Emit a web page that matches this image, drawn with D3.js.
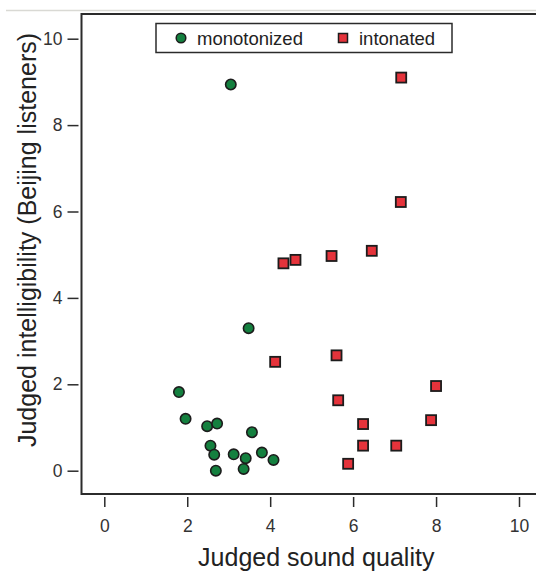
<!DOCTYPE html>
<html>
<head>
<meta charset="utf-8">
<script src="https://cdn.jsdelivr.net/npm/d3@7"></script>
<style>
  html, body { margin: 0; padding: 0; background: #fff; }
  svg { display: block; font-family: "Liberation Sans", Arial, sans-serif; }
</style>
</head>
<body>
<svg id="chart" width="536" height="572"></svg>
<script>
// Judged sound quality (x) vs judged intelligibility (y) per stimulus
const monoQuality = [1.80, 1.96, 2.48, 2.72, 3.56, 2.56, 2.65, 3.12, 3.41, 3.80, 4.08, 2.69, 3.36, 3.48, 3.05];
const monoIntell  = [1.82, 1.20, 1.03, 1.09, 0.89, 0.58, 0.37, 0.38, 0.29, 0.42, 0.25, 0.00, 0.04, 3.30, 8.94];

const intoQuality = [7.16, 7.15, 4.32, 4.61, 5.48, 6.45, 4.12, 5.60, 8.00, 5.64, 7.88, 6.24, 6.24, 7.04, 5.88];
const intoIntell  = [9.10, 6.22, 4.80, 4.88, 4.97, 5.09, 2.52, 2.67, 1.96, 1.63, 1.17, 1.08, 0.58, 0.58, 0.16];

const xTicks = [0, 2, 4, 6, 8, 10];
const yTicks = [0, 2, 4, 6, 8, 10];
const seriesNames = ["monotonized", "intonated"];

const svg = d3.select("#chart");

const frame = { left: 81.5, top: 14, right: 551, bottom: 494 };

const x = d3.scaleLinear().domain([0, 10]).range([104.3, 519]);
const y = d3.scaleLinear().domain([0, 10]).range([470.7, 38.7]);

const ink = "#2b2b2b";
const green = "#14803f";
const red = "#e5333b";

// thin rule across the top of the figure
svg.append("line")
  .attr("x1", 6).attr("x2", 536).attr("y1", 10.5).attr("y2", 10.5)
  .attr("stroke", "#d9d9d4").attr("stroke-width", 1.5);

// plot frame
svg.append("rect")
  .attr("x", frame.left).attr("y", frame.top)
  .attr("width", frame.right - frame.left).attr("height", frame.bottom - frame.top)
  .attr("fill", "none").attr("stroke", ink).attr("stroke-width", 2);

// axes, offset slightly from the frame
const xAxis = svg.append("g")
  .attr("transform", `translate(0,${frame.bottom + 3})`)
  .call(d3.axisBottom(x).tickValues(xTicks).tickSize(10).tickPadding(13).tickFormat(d3.format("d")));
const yAxis = svg.append("g")
  .attr("transform", `translate(${frame.left - 3},0)`)
  .call(d3.axisLeft(y).tickValues(yTicks).tickSize(11).tickPadding(5).tickFormat(d3.format("d")));

[xAxis, yAxis].forEach(g => {
  g.select(".domain").remove();
  g.selectAll(".tick line").attr("stroke", ink).attr("stroke-width", 1.5);
  g.selectAll(".tick text")
    .attr("fill", "#333")
    .style("font-size", "17.5px")
    .style("font-family", "\"Liberation Sans\", Arial, sans-serif");
});

// axis titles
svg.append("text")
  .attr("x", (frame.left + frame.right) / 2).attr("y", 566)
  .attr("text-anchor", "middle")
  .attr("fill", "#222")
  .style("font-size", "25px")
  .text("Judged sound quality");

svg.append("text")
  .attr("transform", `translate(36,240) rotate(-90)`)
  .attr("text-anchor", "middle")
  .attr("fill", "#222")
  .style("font-size", "25px")
  .text("Judged intelligibility (Beijing listeners)");

// points
const mono = monoQuality.map((q, i) => ({ q, v: monoIntell[i] }));
const into = intoQuality.map((q, i) => ({ q, v: intoIntell[i] }));

const sq = 10;
svg.append("g").selectAll("rect")
  .data(into).join("rect")
  .attr("x", d => x(d.q) - sq / 2).attr("y", d => y(d.v) - sq / 2)
  .attr("width", sq).attr("height", sq)
  .attr("fill", red).attr("stroke", "#1c1c1c").attr("stroke-width", 1.8);

svg.append("g").selectAll("circle")
  .data(mono).join("circle")
  .attr("cx", d => x(d.q)).attr("cy", d => y(d.v))
  .attr("r", 5.2)
  .attr("fill", green).attr("stroke", "#1c1c1c").attr("stroke-width", 1.6);

// legend
const lg = svg.append("g");
lg.append("rect")
  .attr("x", 156).attr("y", 23.5).attr("width", 296).attr("height", 29)
  .attr("fill", "#fff").attr("stroke", ink).attr("stroke-width", 1.5);
lg.append("circle")
  .attr("cx", 181).attr("cy", 38).attr("r", 4.8)
  .attr("fill", green).attr("stroke", "#1c1c1c").attr("stroke-width", 1.5);
lg.append("text")
  .attr("x", 197).attr("y", 44.5)
  .attr("fill", "#222").style("font-size", "18.5px")
  .text(seriesNames[0]);
lg.append("rect")
  .attr("x", 343 - 4.5).attr("y", 38 - 4.5).attr("width", 9).attr("height", 9)
  .attr("fill", red).attr("stroke", "#1c1c1c").attr("stroke-width", 1.5);
lg.append("text")
  .attr("x", 359).attr("y", 44.5)
  .attr("fill", "#222").style("font-size", "18.5px")
  .text(seriesNames[1]);
</script>
</body>
</html>
